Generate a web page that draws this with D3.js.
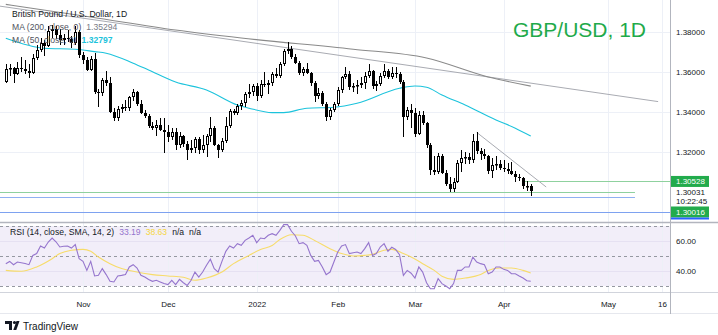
<!DOCTYPE html>
<html><head><meta charset="utf-8">
<script src="https://cdn.jsdelivr.net/npm/d3@7"></script>
<style>
html,body{margin:0;padding:0;background:#fff;}
svg{display:block;font-family:"Liberation Sans",Arial,sans-serif;}
</style></head><body>
<svg id="c" width="718" height="335"></svg>
<script>
// ---------- DATA ----------
const firstDate = "2021-10-04", lastDate = "2022-04-12";
// trading days (weekdays) between first and last date
const dates = d3.utcDays(new Date(firstDate), d3.utcDay.offset(new Date(lastDate), 1))
  .filter(d => d.getUTCDay() % 6 !== 0).map(d3.utcFormat("%Y-%m-%d"));

const opens = [1.3550,1.3615,1.3618,1.3590,1.3620,1.3615,1.3605,1.3595,1.3670,1.3710,
1.3745,1.3730,1.3805,1.3815,1.3785,1.3760,1.3770,1.3765,1.3745,1.3800,
1.3685,1.3660,1.3612,1.3665,1.3500,1.3495,1.3560,1.3545,1.3400,1.3370,
1.3415,1.3425,1.3420,1.3475,1.3500,1.3440,1.3395,1.3380,1.3330,1.3320,
1.3335,1.3310,1.3300,1.3275,1.3300,1.3235,1.3280,1.3240,1.3210,1.3220,
1.3265,1.3210,1.3235,1.3280,1.3320,1.3235,1.3210,1.3255,1.3330,1.3405,
1.3395,1.3430,1.3445,1.3490,1.3500,1.3530,1.3480,1.3540,1.3535,1.3545,
1.3590,1.3580,1.3640,1.3705,1.3715,1.3675,1.3645,1.3595,1.3615,1.3595,
1.3545,1.3480,1.3495,1.3440,1.3375,1.3410,1.3440,1.3510,1.3575,1.3590,
1.3525,1.3530,1.3535,1.3545,1.3580,1.3605,1.3530,1.3540,1.3580,1.3605,
1.3575,1.3595,1.3590,1.3550,1.3375,1.3410,1.3395,1.3290,1.3385,1.3345,
1.3235,1.3110,1.3100,1.3180,1.3095,1.3040,1.3015,1.3050,1.3145,1.3170,
1.3175,1.3160,1.3255,1.3205,1.3190,1.3180,1.3105,1.3135,1.3140,1.3120,
1.3115,1.3105,1.3090,1.3075,1.3070,1.3030,1.3030];
const highs = [1.3640,1.3640,1.3625,1.3650,1.3675,1.3660,1.3640,1.3690,1.3735,1.3770,
1.3760,1.3830,1.3835,1.3830,1.3815,1.3790,1.3810,1.3780,1.3830,1.3810,
1.3700,1.3675,1.3680,1.3695,1.3515,1.3570,1.3605,1.3575,1.3420,1.3430,
1.3440,1.3460,1.3480,1.3515,1.3505,1.3460,1.3410,1.3390,1.3350,1.3360,
1.3370,1.3370,1.3335,1.3320,1.3320,1.3300,1.3285,1.3255,1.3260,1.3275,
1.3275,1.3285,1.3290,1.3375,1.3330,1.3240,1.3270,1.3375,1.3415,1.3415,
1.3440,1.3460,1.3500,1.3540,1.3540,1.3545,1.3560,1.3600,1.3560,1.3600,
1.3620,1.3650,1.3715,1.3750,1.3730,1.3690,1.3655,1.3625,1.3645,1.3600,
1.3555,1.3520,1.3505,1.3450,1.3420,1.3450,1.3525,1.3580,1.3625,1.3605,
1.3545,1.3560,1.3575,1.3600,1.3640,1.3610,1.3555,1.3595,1.3640,1.3615,
1.3625,1.3625,1.3600,1.3560,1.3425,1.3440,1.3420,1.3405,1.3405,1.3350,
1.3245,1.3180,1.3195,1.3190,1.3110,1.3075,1.3070,1.3160,1.3210,1.3200,
1.3195,1.3290,1.3298,1.3220,1.3215,1.3185,1.3170,1.3180,1.3160,1.3160,
1.3145,1.3150,1.3105,1.3090,1.3075,1.3055,1.3040];
const lows = [1.3545,1.3580,1.3545,1.3585,1.3600,1.3590,1.3570,1.3590,1.3660,1.3700,
1.3680,1.3725,1.3770,1.3765,1.3735,1.3735,1.3750,1.3720,1.3735,1.3670,
1.3640,1.3605,1.3605,1.3490,1.3425,1.3480,1.3530,1.3395,1.3355,1.3355,
1.3395,1.3405,1.3405,1.3455,1.3430,1.3390,1.3370,1.3320,1.3310,1.3280,
1.3305,1.3195,1.3250,1.3260,1.3210,1.3220,1.3225,1.3160,1.3195,1.3195,
1.3190,1.3195,1.3175,1.3250,1.3230,1.3170,1.3200,1.3245,1.3320,1.3385,
1.3385,1.3410,1.3425,1.3470,1.3480,1.3455,1.3470,1.3525,1.3490,1.3530,
1.3570,1.3570,1.3630,1.3690,1.3665,1.3640,1.3585,1.3580,1.3590,1.3530,
1.3450,1.3465,1.3430,1.3355,1.3360,1.3400,1.3430,1.3495,1.3565,1.3510,
1.3500,1.3490,1.3520,1.3515,1.3570,1.3515,1.3505,1.3530,1.3570,1.3565,
1.3565,1.3570,1.3540,1.3275,1.3360,1.3320,1.3275,1.3285,1.3335,1.3220,
1.3085,1.3085,1.3090,1.3090,1.3030,1.3000,1.3000,1.3045,1.3100,1.3140,
1.3140,1.3145,1.3190,1.3160,1.3165,1.3090,1.3070,1.3110,1.3110,1.3100,
1.3090,1.3085,1.3050,1.3055,1.3015,1.3005,1.2978];
const closes = [1.3615,1.3618,1.3590,1.3620,1.3615,1.3605,1.3595,1.3670,1.3710,1.3745,
1.3730,1.3805,1.3815,1.3785,1.3760,1.3770,1.3765,1.3745,1.3800,1.3685,
1.3660,1.3612,1.3665,1.3500,1.3495,1.3560,1.3545,1.3400,1.3370,1.3415,
1.3425,1.3420,1.3475,1.3500,1.3440,1.3395,1.3380,1.3330,1.3320,1.3335,
1.3310,1.3300,1.3275,1.3300,1.3235,1.3280,1.3240,1.3210,1.3220,1.3265,
1.3210,1.3235,1.3280,1.3320,1.3235,1.3210,1.3255,1.3330,1.3405,1.3395,
1.3430,1.3445,1.3490,1.3500,1.3530,1.3480,1.3540,1.3535,1.3545,1.3590,
1.3580,1.3640,1.3705,1.3715,1.3675,1.3645,1.3595,1.3615,1.3595,1.3545,
1.3480,1.3495,1.3440,1.3375,1.3410,1.3440,1.3510,1.3575,1.3590,1.3525,
1.3530,1.3535,1.3545,1.3580,1.3605,1.3530,1.3540,1.3580,1.3605,1.3575,
1.3595,1.3590,1.3550,1.3375,1.3410,1.3395,1.3290,1.3385,1.3345,1.3235,
1.3110,1.3100,1.3180,1.3095,1.3040,1.3015,1.3050,1.3145,1.3170,1.3175,
1.3160,1.3255,1.3205,1.3190,1.3180,1.3105,1.3135,1.3140,1.3120,1.3115,
1.3105,1.3090,1.3075,1.3070,1.3030,1.3030,1.30031];

// Moving averages (bar index -> value)
const ma50Idx = [0,10,18,23,26,33,37,44,52,60,63,69,72,78,85,91,102,106,109,113,119,127,132,136];
const ma50Val = [1.3769,1.3719,1.3714,1.3702,1.3694,1.3644,1.3610,1.3550,1.3510,1.3435,1.3419,1.3397,1.3397,1.3419,1.3424,1.3444,1.3519,1.3530,1.3524,1.3485,1.3435,1.3360,1.3319,1.32797];
const ma200Idx = [0,22,44,61,90,109,125,136];
const ma200Val = [1.3938,1.3875,1.3810,1.3770,1.3714,1.3670,1.3575,1.35294];

// RSI (14) per bar, and its SMA(14) signal
const rsi = [44.9,46.4,44.2,46,45.5,45,44.2,50.4,51.6,56.7,
55.3,59.3,62,59.5,56,56.5,56.7,55.3,57.6,48.2,
46.5,40.4,46.4,36.7,37.1,41.6,37.6,33.1,32.7,36.7,
37.1,37.6,42.7,44.2,42,37.1,36,34.4,33.1,33.8,
32.7,31.6,30.9,33.8,30.9,34.4,32.2,30.4,33.8,39.3,
36,39.3,43.8,47.8,41.6,39.3,46.4,53.1,56.7,55.3,
58.2,57.1,60.4,62,63.8,58.9,62,61.5,63.8,64.9,
63.8,67.1,70.9,70.9,66.5,63.5,58.2,58.9,57.1,50.4,
46.4,47.1,42.7,37.6,39.3,46,52.7,56.7,57.6,51.6,
52.2,52.7,51.6,54.9,58.9,50.4,51.6,56,58.2,53.1,
55.8,54.4,50.9,37.1,40.4,38.5,35.3,42.7,39.3,32.2,
28.2,28.2,34.9,31.6,30,28.2,31.6,40.4,40.4,42.7,
42.7,49.3,46,44.9,44.2,38.2,39.3,42.7,42.7,41.1,
40.4,38.2,38.2,36.7,35.3,33.5,33.19];
const sigIdx = [0,4,8,12,14,17,20,22,24,27,30,33,38,42,46,49,52,56,59,63,66,69,71,74,77,80,84,87,90,93,95,98,100,103,105,108,111,113,116,119,123,125,128,131,134,136];
const sigVal = [40.4,39.8,42.7,48.2,51.6,53.8,54.4,53.2,49.3,44.9,41.6,39.8,37.6,36.7,35.8,33.8,35.3,39.3,44.9,50.4,54.4,57,61,64.2,63.8,60.4,54.9,51.6,50,50.4,51.1,53.8,54.4,51.6,49.3,44.9,40.4,36.5,34.4,35.3,37.6,40.4,42,42,40.4,38.63];

// Axis ticks
const priceTicks = [1.38, 1.36, 1.34, 1.32];
const rsiTicks = [60, 40];
const rsiLevels = [70, 50, 30];
const timeTickDates = ["2021-11-01","2021-12-01","2022-01-03","2022-02-01","2022-03-01","2022-04-01","2022-05-02","2022-05-16"];
const timeTickLabels = ["Nov","Dec","2022","Feb","Mar","Apr","May","16"];

// Drawn lines (date, price)
const trendLong = [["2021-09-30",1.3933],["2022-05-15",1.3452]];
const trendShort = [["2022-03-23",1.3298],["2022-04-16",1.3025]];
const supportGreen = 1.3000, supportBlue = 1.2977, lineEnd = "2022-05-09";
const rayGreen = 1.30528, rayStart = "2022-04-08";
const bidLine = 1.2900;

// ---------- SCALES ----------
const N = dates.length;
const svg = d3.select("#c");
const W = 718, plotR = 670, mainBottom = 222, rsiTop = 223, rsiBottom = 292;
const barStep = 3.86, x0 = 5.8;
const x = d3.scaleLinear().domain([0, N - 1]).range([x0, x0 + (N - 1) * barStep]);
const last = new Date(lastDate), first = new Date(firstDate);
function slotOf(ds) {
  const i = dates.indexOf(ds);
  if (i >= 0) return i;
  const d = new Date(ds);
  if (d > last) return (N - 1) + d3.utcDay.count(last, d);
  return -d3.utcDay.count(d, first) * 5 / 7;
}
const yP = d3.scaleLinear().domain([1.38, 1.32]).range([32, 152]);
const yR = d3.scaleLinear().domain([70, 30]).range([226, 286]);

svg.append("rect").attr("width", W).attr("height", 335).attr("fill", "#fff");
const defs = svg.append("defs");
defs.append("clipPath").attr("id", "clipMain").append("rect").attr("x", 0).attr("y", 0).attr("width", plotR).attr("height", mainBottom);
defs.append("clipPath").attr("id", "clipRsi").append("rect").attr("x", 0).attr("y", rsiTop).attr("width", plotR).attr("height", rsiBottom - rsiTop);

const gridCol = "#edf0f7";
// RSI band
svg.append("rect").attr("x", 0).attr("width", plotR)
  .attr("y", yR(70)).attr("height", yR(30) - yR(70)).attr("fill", "#f2eef9");

// vertical grid
const tickSlots = timeTickDates.map(slotOf);
svg.append("g").selectAll("line").data(tickSlots).join("line")
  .attr("x1", d => Math.round(x(d)) + 0.5).attr("x2", d => Math.round(x(d)) + 0.5)
  .attr("y1", 0).attr("y2", rsiBottom).attr("stroke", gridCol);
// horizontal grid main
svg.append("g").selectAll("line").data(priceTicks).join("line")
  .attr("x1", 0).attr("x2", plotR).attr("y1", d => Math.round(yP(d)) + 0.5).attr("y2", d => Math.round(yP(d)) + 0.5)
  .attr("stroke", gridCol);
// horizontal grid rsi
svg.append("g").selectAll("line").data(rsiTicks).join("line")
  .attr("x1", 0).attr("x2", plotR).attr("y1", d => Math.round(yR(d)) + 0.5).attr("y2", d => Math.round(yR(d)) + 0.5)
  .attr("stroke", "#e6e1f2");
// RSI level dashed
svg.append("g").selectAll("line").data(rsiLevels).join("line")
  .attr("x1", 0).attr("x2", plotR).attr("y1", d => Math.round(yR(d)) + 0.5).attr("y2", d => Math.round(yR(d)) + 0.5)
  .attr("stroke", "#9598a1").attr("stroke-dasharray", "3,3");

// ---------- MAIN PANE ----------
const gm = svg.append("g").attr("clip-path", "url(#clipMain)");
const hline = (price, s0, s1, col, w) => gm.append("line")
  .attr("x1", s0 === null ? 0 : x(s0)).attr("x2", s1 === null ? plotR : x(s1))
  .attr("y1", Math.round(yP(price)) + 0.5).attr("y2", Math.round(yP(price)) + 0.5)
  .attr("stroke", col).attr("stroke-width", w || 1);
hline(supportGreen, null, slotOf(lineEnd), "#8fd19e");
hline(supportBlue, null, slotOf(lineEnd), "#8fb0f2");
hline(bidLine, null, null, "#7ea2f0");
hline(rayGreen, slotOf(rayStart), null, "#8fd19e");

const lineP = d3.line().x(d => x(d[0])).y(d => yP(d[1]));
gm.append("path").attr("d", lineP(trendLong.map(d => [slotOf(d[0]), d[1]])))
  .attr("fill", "none").attr("stroke", "#a9abb2").attr("stroke-width", 1);
gm.append("path").attr("d", lineP(trendShort.map(d => [slotOf(d[0]), d[1]])))
  .attr("fill", "none").attr("stroke", "#a9abb2").attr("stroke-width", 1);

const curveP = d3.line().x(d => x(d[0])).y(d => yP(d[1])).curve(d3.curveMonotoneX);
gm.append("path").attr("d", curveP(ma200Idx.map((d, i) => [d, ma200Val[i]])))
  .attr("fill", "none").attr("stroke", "#8a8a8a").attr("stroke-width", 1.1);
gm.append("path").attr("d", curveP(ma50Idx.map((d, i) => [d, ma50Val[i]])))
  .attr("fill", "none").attr("stroke", "#1cc3dc").attr("stroke-width", 1.1);

// candles
const candles = gm.append("g").selectAll("g").data(dates.map((d, i) => i)).join("g");
candles.each(function (i) {
  const g = d3.select(this);
  const cx = Math.round(x(i));
  const o = opens[i], c = closes[i];
  const up = c >= o;
  const yTop = Math.round(yP(Math.max(o, c))), yBot = Math.round(yP(Math.min(o, c)));
  const yH = Math.round(yP(highs[i])), yL = Math.round(yP(lows[i]));
  const col = "#000";
  if (up) {
    if (yH < yTop) g.append("line").attr("x1", cx + 0.5).attr("x2", cx + 0.5).attr("y1", yH).attr("y2", yTop).attr("stroke", col);
    if (yL > yBot) g.append("line").attr("x1", cx + 0.5).attr("x2", cx + 0.5).attr("y1", yBot).attr("y2", yL).attr("stroke", col);
    g.append("rect").attr("x", cx - 0.5).attr("y", yTop + 0.5).attr("width", 2)
      .attr("height", Math.max(yBot - yTop - 1, 0.5)).attr("fill", "#fff").attr("stroke", col);
  } else {
    g.append("line").attr("x1", cx + 0.5).attr("x2", cx + 0.5).attr("y1", yH).attr("y2", yL).attr("stroke", col);
    g.append("rect").attr("x", cx - 1).attr("y", yTop).attr("width", 3)
      .attr("height", Math.max(yBot - yTop, 1)).attr("fill", col);
  }
});

// ---------- RSI PANE ----------
const gr = svg.append("g").attr("clip-path", "url(#clipRsi)");
gr.append("path").attr("d", d3.line().x(d => x(d[0])).y(d => yR(d[1])).curve(d3.curveMonotoneX)(sigIdx.map((d, i) => [d, sigVal[i]])))
  .attr("fill", "none").attr("stroke", "#f7dc6a").attr("stroke-width", 1.1);
gr.append("path").attr("d", d3.line().x(d => x(d[0])).y(d => yR(d[1]))(rsi.map((v, i) => [i, v])))
  .attr("fill", "none").attr("stroke", "#9575cd").attr("stroke-width", 1.1);

// ---------- FRAME / SEPARATORS ----------
svg.append("line").attr("x1", 0).attr("x2", W).attr("y1", 222.5).attr("y2", 222.5).attr("stroke", "#b2b5be").attr("stroke-width", 1.5);
svg.append("line").attr("x1", 0).attr("x2", W).attr("y1", 292.5).attr("y2", 292.5).attr("stroke", "#d1d4dc");
svg.append("line").attr("x1", 0).attr("x2", W).attr("y1", 313.5).attr("y2", 313.5).attr("stroke", "#e6e8ee");
svg.append("line").attr("x1", plotR + 0.5).attr("x2", plotR + 0.5).attr("y1", 0).attr("y2", 314).attr("stroke", "#b2b5be");

// ---------- AXES ----------
const fs = "8px", txt = "#131722";
const ax = svg.append("g").attr("transform", `translate(${plotR},0)`)
  .call(d3.axisRight(yP).tickValues(priceTicks).tickFormat(d3.format(".5f")).tickSize(0).tickPadding(6));
ax.select(".domain").remove();
ax.selectAll("text").attr("font-size", fs).attr("fill", txt).attr("font-family", "Liberation Sans, Arial, sans-serif");

const axr = svg.append("g").attr("transform", `translate(${plotR},0)`)
  .call(d3.axisRight(yR).tickValues(rsiTicks).tickFormat(d3.format(".2f")).tickSize(0).tickPadding(6));
axr.select(".domain").remove();
axr.selectAll("text").attr("font-size", fs).attr("fill", txt).attr("font-family", "Liberation Sans, Arial, sans-serif");

const axt = svg.append("g").attr("transform", `translate(0,${rsiBottom})`)
  .call(d3.axisBottom(x).tickValues(tickSlots).tickFormat((d, i) => timeTickLabels[i]).tickSize(0).tickPadding(9));
axt.select(".domain").remove();
axt.selectAll("text").attr("font-size", fs).attr("fill", txt).attr("font-family", "Liberation Sans, Arial, sans-serif");

// price labels on axis
const green = "#22ab4c";
function priceBox(label, yc) {
  svg.append("rect").attr("x", plotR + 1).attr("y", yc - 5.5).attr("width", 38).attr("height", 11).attr("fill", green);
  svg.append("text").attr("x", plotR + 6).attr("y", yc + 3).attr("font-size", fs).attr("fill", "#fff").text(label);
}
priceBox(d3.format(".5f")(rayGreen), yP(rayGreen));
svg.append("text").attr("x", plotR + 6).attr("y", yP(closes[N - 1]) + 3.5).attr("font-size", fs).attr("fill", txt).text(d3.format(".5f")(closes[N - 1]));
svg.append("text").attr("x", plotR + 6).attr("y", yP(closes[N - 1]) + 12.5).attr("font-size", fs).attr("fill", txt).text("10:22:45");
priceBox("1.30016", yP(bidLine));
svg.append("rect").attr("x", plotR + 1).attr("y", yP(bidLine) + 5.5).attr("width", 38).attr("height", 2).attr("fill", "#2962ff");

// ---------- LEGENDS ----------
const lfs = "8.6px";
function legendRow(x0, yy, parts) {
  let cx = x0;
  parts.forEach(p => {
    const t = svg.append("text").attr("x", cx).attr("y", yy).attr("font-size", lfs)
      .attr("fill", p[1]).attr("font-weight", p[2] || "normal").text(p[0]);
    cx += t.node().getComputedTextLength() + 5;
  });
}
legendRow(12, 17, [["British Pound / U.S. Dollar, 1D", txt]]);
legendRow(12, 30, [["MA (200, close, 0)", "#50535e"], [d3.format(".5f")(ma200Val[ma200Val.length - 1]), "#787b86"]]);
legendRow(12, 43, [["MA (50, close, 0)", "#50535e"], [d3.format(".5f")(ma50Val[ma50Val.length - 1]), "#1cc3dc", "bold"]]);
legendRow(10, 235, [["RSI (14, close, SMA, 14, 2)", txt], [rsi[N - 1].toFixed(2), "#9575cd"],
  [sigVal[sigVal.length - 1].toFixed(2), "#f5d742"], ["n/a", txt], ["n/a", txt]]);

// title
svg.append("text").attr("x", 513).attr("y", 37).attr("font-size", "21px").attr("fill", "#1faa4a").text("GBP/USD, 1D");

// TradingView mark
const lg = svg.append("g").attr("fill", "#131722");
lg.append("rect").attr("x", 5).attr("y", 321).attr("width", 7).attr("height", 3);
lg.append("rect").attr("x", 9).attr("y", 321).attr("width", 3).attr("height", 9);
lg.append("circle").attr("cx", 14.5).attr("cy", 322.5).attr("r", 1.6);
lg.append("path").attr("d", "M16.5,321 L19.5,321 L16.3,330 L13.3,330 Z");
svg.append("text").attr("x", 23).attr("y", 329.5).attr("font-size", "10px").attr("fill", "#131722").text("TradingView");
</script>
</body></html>
